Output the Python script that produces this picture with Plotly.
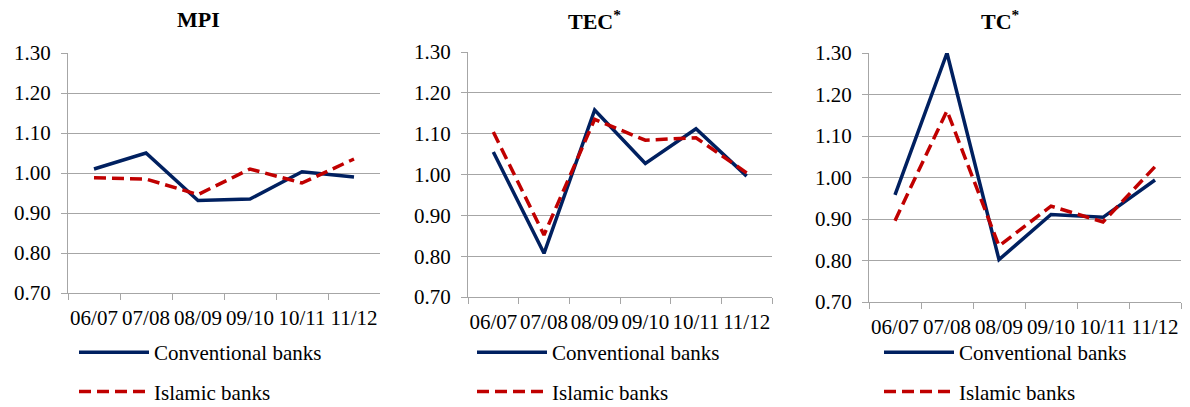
import plotly.graph_objects as go

categories = ["06/07", "07/08", "08/09", "09/10", "10/11", "11/12"]

mpi_conv = [1.010, 1.050, 0.931, 0.935, 1.003, 0.990]
mpi_isl = [0.988, 0.985, 0.946, 1.010, 0.975, 1.035]

tec_conv = [1.055, 0.807, 1.158, 1.027, 1.112, 0.996]
tec_isl = [1.104, 0.852, 1.135, 1.084, 1.090, 1.004]

tc_conv = [0.958, 1.300, 0.802, 0.911, 0.904, 0.994]
tc_isl = [0.896, 1.161, 0.835, 0.931, 0.893, 1.026]

titles = ["<b>MPI</b>", "<b>TEC<sup>*</sup></b>", "<b>TC<sup>*</sup></b>"]
series_names = ["Conventional banks", "Islamic banks"]
yticks = [0.70, 0.80, 0.90, 1.00, 1.10, 1.20, 1.30]

W, H = 1190, 407
BLUE = "#002060"
RED = "#C00000"
GRID = "#a6a6a6"
FONT = "Liberation Serif"

panels = [
    dict(conv=mpi_conv, isl=mpi_isl, x=(68, 380), y=(53, 293), tx=198, lx=74),
    dict(conv=tec_conv, isl=tec_isl, x=(468, 772), y=(52, 297), tx=594, lx=472),
    dict(conv=tc_conv, isl=tc_isl, x=(869, 1181), y=(53, 302), tx=1000, lx=879),
]

fig = go.Figure()
layout = dict(
    template="none",
    width=W, height=H,
    margin=dict(l=0, r=0, t=0, b=0, autoexpand=False),
    paper_bgcolor="white", plot_bgcolor="white",
    font=dict(family=FONT, size=20, color="black"),
    annotations=[],
)

for i, p in enumerate(panels):
    n = "" if i == 0 else str(i + 1)
    xa = "x" + n
    ya = "y" + n
    leg = "legend" + n
    fig.add_trace(go.Scatter(
        x=categories, y=p["conv"], mode="lines", name=series_names[0],
        line=dict(color=BLUE, width=3.5), xaxis=xa, yaxis=ya,
        legend=leg, legendgroup="c" + n,
    ))
    fig.add_trace(go.Scatter(
        x=categories, y=p["isl"], mode="lines", name=series_names[1],
        line=dict(color=RED, width=3.5, dash="12px,6px"), xaxis=xa, yaxis=ya,
        legend=leg, legendgroup="i" + n,
    ))
    layout["xaxis" + n] = dict(
        domain=[p["x"][0] / W, p["x"][1] / W],
        anchor=ya, type="category", range=[-0.5, 5.5],
        showline=True, linecolor=GRID, linewidth=1, mirror=False,
        ticks="outside", tickson="boundaries", ticklen=6, tickcolor=GRID,
        showgrid=False, tickangle=0,
        tickfont=dict(family=FONT, size=21, color="black"), ticklabelstandoff=6,
        fixedrange=True, zeroline=False,
    )
    layout["yaxis" + n] = dict(
        domain=[1 - p["y"][1] / H, 1 - p["y"][0] / H],
        anchor=xa, range=[0.70, 1.30], tickvals=yticks,
        tickformat=".2f", showline=True, linecolor=GRID, linewidth=1,
        ticks="outside", ticklen=6, tickcolor=GRID,
        showgrid=True, gridcolor=GRID, gridwidth=1, zeroline=False,
        tickfont=dict(family=FONT, size=21, color="black"),
        ticklabelstandoff=6, fixedrange=True,
    )
    layout[leg] = dict(
        x=p["lx"] / W, y=1 - 332 / H, xanchor="left", yanchor="top",
        orientation="v", itemwidth=70, traceorder="grouped",
        tracegroupgap=9, font=dict(family=FONT, size=21, color="black"),
        bgcolor="rgba(0,0,0,0)", borderwidth=0,
    )
    layout["annotations"].append(dict(
        text=titles[i], x=p["tx"] / W, y=1 - 20 / H, xref="paper", yref="paper",
        showarrow=False, font=dict(family=FONT, size=22, color="black"),
        xanchor="center", yanchor="middle",
    ))

fig.update_layout(**layout)
fig.write_html("out.html")
